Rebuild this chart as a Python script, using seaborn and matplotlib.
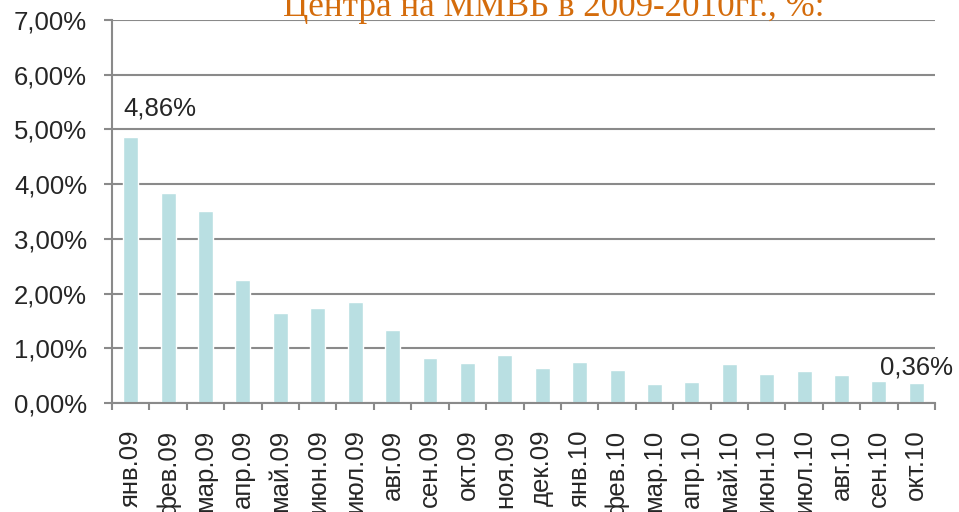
import matplotlib

matplotlib.use("Agg")

import matplotlib.pyplot as plt
import pandas as pd
import seaborn as sns
from matplotlib.ticker import FixedLocator, FuncFormatter

months = [
    "янв.09", "фев.09", "мар.09", "апр.09", "май.09", "июн.09", "июл.09",
    "авг.09", "сен.09", "окт.09", "ноя.09", "дек.09", "янв.10", "фев.10",
    "мар.10", "апр.10", "май.10", "июн.10", "июл.10", "авг.10", "сен.10",
    "окт.10",
]
share_pct = [
    4.86, 3.84, 3.50, 2.25, 1.64, 1.73, 1.85, 1.33, 0.82, 0.73, 0.87,
    0.64, 0.75, 0.60, 0.35, 0.38, 0.71, 0.53, 0.59, 0.51, 0.41, 0.36,
]
title = "Центра на ММВБ в 2009-2010гг., %:"

df = pd.DataFrame({"month": months, "share": share_pct})

bar_color = "#b9dfe2"
grid_color = "#8a8a8a"
fs = 18.5


def pct(v):
    return f"{v:.2f}%".replace(".", ",")


sns.set_style("white")
plt.rcParams["font.family"] = ["Liberation Sans", "DejaVu Sans"]

fig = plt.figure(figsize=(9.59, 5.12), dpi=100)
ax = fig.add_axes([0.1168, 0.2129, 0.8582, 0.7481])

sns.barplot(data=df, x="month", y="share", color=bar_color, saturation=1,
            width=0.4, ax=ax)

ax.set_ylim(0, 7)
ax.set_xlim(-0.5, len(months) - 0.5)
ax.set_yticks(range(0, 8))
ax.yaxis.set_major_formatter(FuncFormatter(lambda v, _: pct(v)))
ax.grid(axis="y", color=grid_color, linewidth=1.5)
ax.set_axisbelow(True)

for side in ["top", "right"]:
    ax.spines[side].set_visible(False)
for side in ["left", "bottom"]:
    ax.spines[side].set_color(grid_color)
    ax.spines[side].set_linewidth(1.5)

ax.tick_params(axis="y", length=6, width=1.5, color=grid_color, labelsize=fs, pad=12,
               left=True)
ax.tick_params(axis="x", which="major", length=0, labelsize=fs, pad=19,
               labelrotation=90)
ax.xaxis.set_minor_locator(FixedLocator([i - 0.5 for i in range(len(months) + 1)]))
ax.tick_params(axis="x", which="minor", length=5, width=1.5, color=grid_color,
               bottom=True)
for lbl in ax.get_xticklabels():
    lbl.set_va("top")

ax.set_xlabel("")
ax.set_ylabel("")

bars = ax.patches
first, last = bars[0], bars[-1]
ax.annotate(pct(share_pct[0]), xy=(first.get_x(), first.get_height()),
            xytext=(0, 12), textcoords="offset points", ha="left", va="bottom",
            fontsize=fs)
ax.annotate(pct(share_pct[-1]), xy=(last.get_x() + last.get_width() / 2, last.get_height()),
            xytext=(0, 3), textcoords="offset points", ha="center", va="bottom",
            fontsize=fs)

fig.text(0.577, 0.969, title, ha="center", va="baseline", fontsize=25.2,
         color="#d46c0c", family=["Liberation Serif", "DejaVu Serif"])

fig.savefig("out.png", dpi=100)
plt.close(fig)
